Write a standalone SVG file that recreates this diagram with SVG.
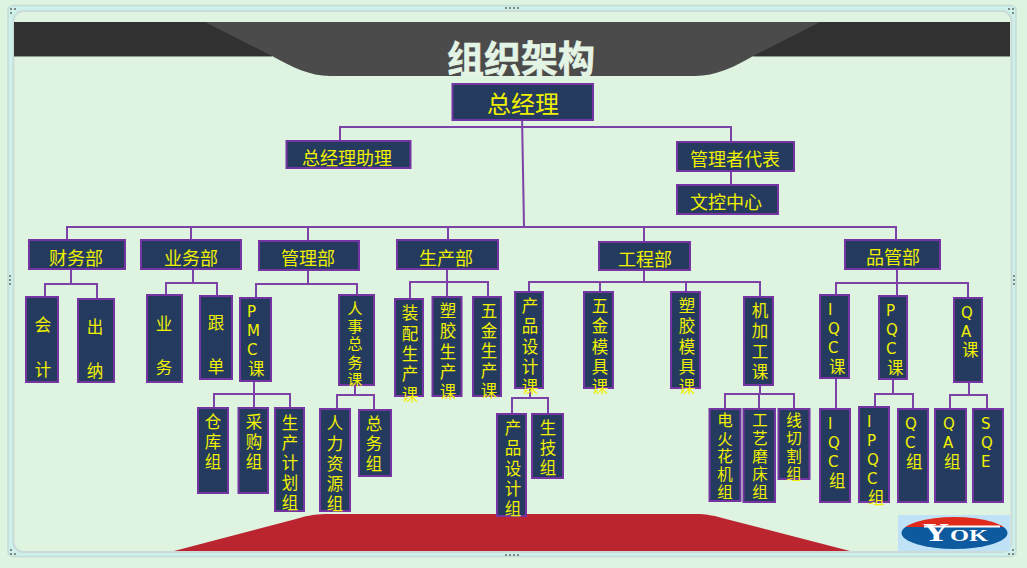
<svg xmlns="http://www.w3.org/2000/svg" width="1027" height="568" viewBox="0 0 1027 568">
<style>
.n{fill:#243b5f;stroke:#7434a2;stroke-width:2}
.t{fill:#f0f000;font-family:"Noto Sans CJK SC","Noto Sans",sans-serif;font-size:18px}
.v{font-size:16.5px}
.m{text-anchor:middle}
.l{font-family:"DejaVu Sans","Noto Sans CJK SC",sans-serif;font-size:15px}
#connectors path{fill:none;stroke:#7d42a8;stroke-width:2}
.h{fill:#7f8c86}
</style>
<defs>
<clipPath id="logoTop"><rect x="898" y="515" width="112" height="12"/></clipPath>
<clipPath id="logoBot"><rect x="898" y="527" width="112" height="24"/></clipPath>
</defs>
<rect width="1027" height="568" fill="#def4e1"/>
<g id="frame">
<rect x="8" y="5.500" width="1008" height="551" rx="5" fill="#cdf0ea" stroke="#c4dcd8" stroke-width="1.500"/>
<rect x="13.500" y="11" width="998" height="541" rx="10" fill="#def4e1" stroke="#cbdcd8" stroke-width="2"/>
</g>
<g id="banner">
<rect x="14" y="22" width="996" height="34" fill="#313131"/>
<path d="M205 22H820L755 55C735 67 715 76 695 76H330C310 76 292 67 272 56Z" fill="#4b4b4b"/>
<rect x="14" y="56" width="258" height="1" fill="#8a9a90"/>
<rect x="753" y="56" width="257" height="1" fill="#8a9a90"/>
<text x="521" y="73" text-anchor="middle" font-family="'Noto Sans CJK SC',sans-serif" font-size="37" font-weight="700" fill="#e4f4e4" stroke="#e4f4e4" stroke-width="0.600">组织架构</text>
</g>
<path id="redBase" d="M174 551L296 519C308 515 318 514 330 514H695C707 514 716 516 726 519L850 551Z" fill="#bb2530"/>
<g id="logo">
<rect x="898" y="515" width="112" height="36" fill="#bfe2f6"/>
<ellipse cx="954.500" cy="533" rx="53" ry="16" fill="#e02a1c" clip-path="url(#logoTop)"/>
<ellipse cx="954.500" cy="533" rx="53" ry="16" fill="#0d5a9e" clip-path="url(#logoBot)"/>
<rect x="924" y="525.500" width="76" height="2" fill="#fff"/>
<text x="923" y="541" font-family="'Liberation Serif',serif" font-weight="700" font-size="25" fill="#fff" textLength="26" lengthAdjust="spacingAndGlyphs">Y</text>
<text x="950" y="541" font-family="'Liberation Serif',serif" font-weight="700" font-size="16" fill="#fff" textLength="38" lengthAdjust="spacingAndGlyphs">OK</text>
</g>
<g id="connectors">
<path d="M522 115L524 227M340 141V127H731V142M731 171V185"/>
<path d="M67 240V227H896V240M191 227V240M308 227V241M448 227V240M644 227V242"/>
<path d="M71 269V284M45 297V284H97V299"/>
<path d="M193 269V283M166 295V283H217V296"/>
<path d="M308 270V284M256 298V284H357V295"/>
<path d="M447 269V297M410 299V282H488V297"/>
<path d="M644 270V282M529 292V282H760V297M600 282V292M686 282V292"/>
<path d="M897 269V296M836 295V283H968V298"/>
<path d="M254 381V408M214 408V394H290V408"/>
<path d="M355 385V395M337 409V395H374V410"/>
<path d="M530 388V398M512 414V398H548V414"/>
<path d="M760 385V394M725 409V394H794V409M759 394V409"/>
<path d="M836 378V409"/>
<path d="M893 379V394M875 407V394H913V409"/>
<path d="M969 382V395M950 409V395H987V409"/>
</g>
<g id="n-root"><rect class="n" x="452.500" y="84" width="140.500" height="36"/><text class="t m" x="523" y="113" style="font-size:24px">总经理</text></g>
<g id="n-assistant"><rect class="n" x="286.500" y="141" width="124" height="27"/><text class="t" x="302" y="165">总经理助理</text></g>
<g id="n-rep"><rect class="n" x="677" y="142" width="117" height="29"/><text class="t" x="690" y="166">管理者代表</text></g>
<g id="n-doc"><rect class="n" x="677" y="185" width="101" height="29"/><text class="t" x="690" y="209">文控中心</text></g>
<g id="n-fin"><rect class="n" x="29" y="240" width="96" height="29"/><text class="t" x="49" y="265">财务部</text></g>
<g id="n-biz"><rect class="n" x="141" y="240" width="100" height="29"/><text class="t" x="164" y="265">业务部</text></g>
<g id="n-mgmt"><rect class="n" x="259" y="241" width="100" height="29"/><text class="t" x="281" y="265">管理部</text></g>
<g id="n-prod"><rect class="n" x="397" y="240" width="101" height="29"/><text class="t" x="419" y="265">生产部</text></g>
<g id="n-eng"><rect class="n" x="599" y="242" width="91" height="28"/><text class="t" x="618" y="266">工程部</text></g>
<g id="n-qual"><rect class="n" x="845" y="240" width="95" height="29"/><text class="t" x="866" y="264">品管部</text></g>

<g id="n-acct"><rect class="n" x="26" y="297" width="32" height="85"/><text class="t v m"><tspan x="43" y="331">会</tspan><tspan x="43" y="376">计</tspan></text></g>
<g id="n-cash"><rect class="n" x="78" y="299" width="36" height="83"/><text class="t v m"><tspan x="95" y="333">出</tspan><tspan x="95" y="377">纳</tspan></text></g>
<g id="n-sales"><rect class="n" x="147" y="295" width="35" height="87"/><text class="t v m"><tspan x="164" y="330">业</tspan><tspan x="164" y="374">务</tspan></text></g>
<g id="n-follow"><rect class="n" x="200" y="296" width="32" height="83"/><text class="t v m"><tspan x="216" y="329">跟</tspan><tspan x="216" y="373">单</tspan></text></g>
<g id="n-pmc"><rect class="n" x="240" y="298" width="31" height="83"/><text class="t v"><tspan class="l" x="247" y="317">P</tspan><tspan class="l" x="247" y="336">M</tspan><tspan class="l" x="247" y="355">C</tspan><tspan x="248" y="375">课</tspan></text></g>
<g id="n-hr"><rect class="n" x="339" y="295" width="35" height="90"/><text class="t v m" style="font-size:15px"><tspan x="355" y="314">人</tspan><tspan x="355" y="332">事</tspan><tspan x="355" y="349">总</tspan><tspan x="355" y="368">务</tspan><tspan x="355" y="385">课</tspan></text></g>
<g id="n-p1"><rect class="n" x="395" y="299" width="28" height="97"/><text class="t v m"><tspan x="410" y="319">装</tspan><tspan x="410" y="340">配</tspan><tspan x="410" y="360">生</tspan><tspan x="410" y="380">产</tspan><tspan x="410" y="401">课</tspan></text></g>
<g id="n-p2"><rect class="n" x="432.500" y="297" width="29" height="99"/><text class="t v m"><tspan x="448" y="317">塑</tspan><tspan x="448" y="337">胶</tspan><tspan x="448" y="358">生</tspan><tspan x="448" y="378">产</tspan><tspan x="448" y="398">课</tspan></text></g>
<g id="n-p3"><rect class="n" x="473" y="297" width="28" height="99"/><text class="t v m"><tspan x="489" y="317">五</tspan><tspan x="489" y="337">金</tspan><tspan x="489" y="357">生</tspan><tspan x="489" y="377">产</tspan><tspan x="489" y="397">课</tspan></text></g>
<g id="n-e1"><rect class="n" x="515" y="292" width="28" height="96"/><text class="t v m"><tspan x="530" y="312">产</tspan><tspan x="530" y="332">品</tspan><tspan x="530" y="353">设</tspan><tspan x="530" y="373">计</tspan><tspan x="530" y="393">课</tspan></text></g>
<g id="n-e2"><rect class="n" x="584" y="292" width="29" height="96"/><text class="t v m"><tspan x="600" y="312">五</tspan><tspan x="600" y="332">金</tspan><tspan x="600" y="353">模</tspan><tspan x="600" y="373">具</tspan><tspan x="600" y="393">课</tspan></text></g>
<g id="n-e3"><rect class="n" x="671" y="292" width="29" height="96"/><text class="t v m"><tspan x="687" y="312">塑</tspan><tspan x="687" y="332">胶</tspan><tspan x="687" y="353">模</tspan><tspan x="687" y="373">具</tspan><tspan x="687" y="393">课</tspan></text></g>
<g id="n-e4"><rect class="n" x="744" y="297" width="29" height="88"/><text class="t v m"><tspan x="760" y="317">机</tspan><tspan x="760" y="337">加</tspan><tspan x="760" y="358">工</tspan><tspan x="760" y="378">课</tspan></text></g>
<g id="n-iqc"><rect class="n" x="820" y="295" width="29" height="83"/><text class="t v"><tspan class="l" x="828" y="315">I</tspan><tspan class="l" x="828" y="334">Q</tspan><tspan class="l" x="828" y="353">C</tspan><tspan x="829" y="373">课</tspan></text></g>
<g id="n-pqc"><rect class="n" x="879" y="296" width="28" height="83"/><text class="t v"><tspan class="l" x="886" y="316">P</tspan><tspan class="l" x="886" y="335">Q</tspan><tspan class="l" x="886" y="354">C</tspan><tspan x="887" y="374">课</tspan></text></g>
<g id="n-qa"><rect class="n" x="954" y="298" width="28" height="84"/><text class="t v"><tspan class="l" x="961" y="318">Q</tspan><tspan class="l" x="961" y="337">A</tspan><tspan x="962" y="356">课</tspan></text></g>

<g id="n-wh"><rect class="n" x="198" y="408" width="30" height="85"/><text class="t v m"><tspan x="213" y="428">仓</tspan><tspan x="213" y="448">库</tspan><tspan x="213" y="468">组</tspan></text></g>
<g id="n-buy"><rect class="n" x="238.500" y="408" width="29.500" height="85"/><text class="t v m"><tspan x="254" y="428">采</tspan><tspan x="254" y="448">购</tspan><tspan x="254" y="468">组</tspan></text></g>
<g id="n-plan"><rect class="n" x="275" y="408" width="29" height="103"/><text class="t v m"><tspan x="290" y="429">生</tspan><tspan x="290" y="449">产</tspan><tspan x="290" y="469">计</tspan><tspan x="290" y="489">划</tspan><tspan x="290" y="509">组</tspan></text></g>
<g id="n-hrg"><rect class="n" x="320" y="409" width="30" height="102"/><text class="t v m"><tspan x="335" y="429">人</tspan><tspan x="335" y="450">力</tspan><tspan x="335" y="470">资</tspan><tspan x="335" y="490">源</tspan><tspan x="335" y="510">组</tspan></text></g>
<g id="n-ga"><rect class="n" x="359" y="410" width="32" height="66"/><text class="t v m"><tspan x="374" y="430">总</tspan><tspan x="374" y="450">务</tspan><tspan x="374" y="470">组</tspan></text></g>
<g id="n-pdg"><rect class="n" x="497" y="414" width="29" height="102"/><text class="t v m"><tspan x="513" y="434">产</tspan><tspan x="513" y="454">品</tspan><tspan x="513" y="475">设</tspan><tspan x="513" y="495">计</tspan><tspan x="513" y="515">组</tspan></text></g>
<g id="n-tech"><rect class="n" x="532" y="414" width="31" height="64"/><text class="t v m"><tspan x="548" y="434">生</tspan><tspan x="548" y="454">技</tspan><tspan x="548" y="474">组</tspan></text></g>
<g id="n-edm"><rect class="n" x="709.500" y="409" width="31" height="92"/><text class="t v m" style="font-size:15.500px"><tspan x="725" y="426">电</tspan><tspan x="725" y="445">火</tspan><tspan x="725" y="462">花</tspan><tspan x="725" y="480">机</tspan><tspan x="725" y="498">组</tspan></text></g>
<g id="n-grind"><rect class="n" x="743.500" y="409" width="31.500" height="93"/><text class="t v m" style="font-size:15.500px"><tspan x="760" y="426">工</tspan><tspan x="760" y="444">艺</tspan><tspan x="760" y="462">磨</tspan><tspan x="760" y="480">床</tspan><tspan x="760" y="498">组</tspan></text></g>
<g id="n-wire"><rect class="n" x="778.500" y="409" width="31" height="70"/><text class="t v m" style="font-size:15.500px"><tspan x="794" y="426">线</tspan><tspan x="794" y="444">切</tspan><tspan x="794" y="462">割</tspan><tspan x="794" y="480">组</tspan></text></g>
<g id="n-iqcg"><rect class="n" x="820" y="409" width="30" height="93"/><text class="t v"><tspan class="l" x="828" y="429">I</tspan><tspan class="l" x="828" y="448">Q</tspan><tspan class="l" x="828" y="467">C</tspan><tspan x="829" y="487">组</tspan></text></g>
<g id="n-ipqc"><rect class="n" x="859" y="407" width="30" height="95"/><text class="t v"><tspan class="l" x="867" y="427">I</tspan><tspan class="l" x="867" y="446">P</tspan><tspan class="l" x="867" y="465">Q</tspan><tspan class="l" x="867" y="484">C</tspan><tspan x="868" y="504">组</tspan></text></g>
<g id="n-qcg"><rect class="n" x="898" y="409" width="30" height="93"/><text class="t v"><tspan class="l" x="905" y="429">Q</tspan><tspan class="l" x="905" y="448">C</tspan><tspan x="906" y="468">组</tspan></text></g>
<g id="n-qag"><rect class="n" x="935" y="409" width="31" height="93"/><text class="t v"><tspan class="l" x="943" y="429">Q</tspan><tspan class="l" x="943" y="448">A</tspan><tspan x="944" y="468">组</tspan></text></g>
<g id="n-sqe"><rect class="n" x="973" y="409" width="30" height="93"/><text class="t v"><tspan class="l" x="981" y="429">S</tspan><tspan class="l" x="981" y="448">Q</tspan><tspan class="l" x="981" y="467">E</tspan></text></g>
<g id="handles">
<rect class="h" x="505" y="7" width="2" height="2"/><rect class="h" x="509" y="7" width="2" height="2"/><rect class="h" x="513" y="7" width="2" height="2"/><rect class="h" x="517" y="7" width="2" height="2"/>
<rect class="h" x="505" y="554" width="2" height="2"/><rect class="h" x="509" y="554" width="2" height="2"/><rect class="h" x="513" y="554" width="2" height="2"/><rect class="h" x="517" y="554" width="2" height="2"/>
<rect class="h" x="9" y="275" width="2" height="2"/><rect class="h" x="9" y="279" width="2" height="2"/><rect class="h" x="9" y="283" width="2" height="2"/>
<rect class="h" x="1013" y="275" width="2" height="2"/><rect class="h" x="1013" y="279" width="2" height="2"/><rect class="h" x="1013" y="283" width="2" height="2"/>
<rect class="h" x="10" y="8" width="2" height="2"/><rect class="h" x="14" y="8" width="2" height="2"/><rect class="h" x="10" y="12" width="2" height="2"/>
<rect class="h" x="1008" y="8" width="2" height="2"/><rect class="h" x="1012" y="8" width="2" height="2"/><rect class="h" x="1012" y="12" width="2" height="2"/>
<rect class="h" x="10" y="549" width="2" height="2"/><rect class="h" x="10" y="553" width="2" height="2"/><rect class="h" x="14" y="553" width="2" height="2"/>
<rect class="h" x="1012" y="549" width="2" height="2"/><rect class="h" x="1008" y="553" width="2" height="2"/><rect class="h" x="1012" y="553" width="2" height="2"/>
</g>
</svg>
